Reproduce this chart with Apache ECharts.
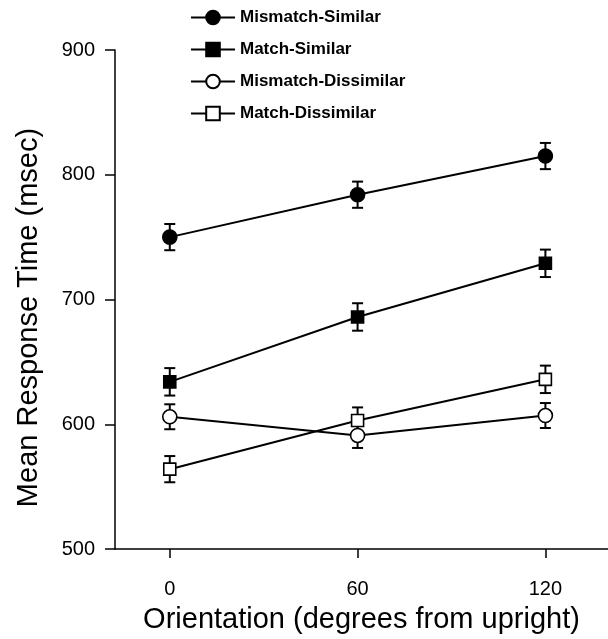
<!DOCTYPE html>
<html>
<head>
<meta charset="utf-8">
<script src="https://cdn.jsdelivr.net/npm/echarts@6/dist/echarts.min.js"></script>
<style>
  html, body { margin: 0; padding: 0; background: #fff; }
  #main { width: 608px; height: 639px; }
</style>
</head>
<body>
<div id="main"></div>
<script>
// orientation conditions (degrees from upright)
const orientations = [0, 60, 120]
const seriesNames = ['Mismatch-Similar', 'Match-Similar', 'Mismatch-Dissimilar', 'Match-Dissimilar']

// mean response times (msec)
const mismatchSimilar = [750, 784, 815]
const matchSimilar = [634, 686, 729]
const mismatchDissimilar = [606, 591, 607]
const matchDissimilar = [564, 603, 636]

// error bar half-lengths (msec)
const mismatchSimilarErr = [10.5, 10.5, 10.5]
const matchSimilarErr = [11, 11, 11]
const mismatchDissimilarErr = [10, 10, 10]
const matchDissimilarErr = [10.5, 10.5, 11]

const yTicks = [500, 600, 700, 800, 900]

const font = "'Liberation Sans', Arial, Helvetica, sans-serif"

let chart = echarts.init(document.getElementById('main'), null, { renderer: 'canvas' })

// markers: filled circle, filled square, open circle, open square
const markers = [
  { symbol: 'circle', size: 14, fill: '#000' },
  { symbol: 'rect', size: 12, fill: '#000' },
  { symbol: 'circle', size: 14, fill: '#fff' },
  { symbol: 'rect', size: 12, fill: '#fff' }
]
const values = [mismatchSimilar, matchSimilar, mismatchDissimilar, matchDissimilar]
const errors = [mismatchSimilarErr, matchSimilarErr, mismatchDissimilarErr, matchDissimilarErr]

function lineSeries(i) {
  return {
    name: seriesNames[i],
    type: 'line',
    z: 3,
    data: orientations.map((x, j) => [x, values[i][j]]),
    symbol: markers[i].symbol,
    symbolSize: markers[i].size,
    lineStyle: { color: '#000', width: 2 },
    itemStyle: { color: markers[i].fill, borderColor: '#000', borderWidth: 1.6 },
    emphasis: { disabled: true },
    animation: false
  }
}

function errorSeries(i) {
  return {
    type: 'custom',
    z: 2,
    silent: true,
    data: orientations.map((x, j) => [x, values[i][j] - errors[i][j], values[i][j] + errors[i][j]]),
    renderItem: function (params, api) {
      let lo = api.coord([api.value(0), api.value(1)])
      let hi = api.coord([api.value(0), api.value(2)])
      let w = 5.5
      let style = { stroke: '#000', lineWidth: 2 }
      return {
        type: 'group',
        children: [
          { type: 'line', shape: { x1: lo[0], y1: lo[1], x2: hi[0], y2: hi[1] }, style: style },
          { type: 'line', shape: { x1: lo[0] - w, y1: lo[1], x2: lo[0] + w, y2: lo[1] }, style: style },
          { type: 'line', shape: { x1: hi[0] - w, y1: hi[1], x2: hi[0] + w, y2: hi[1] }, style: style }
        ]
      }
    },
    animation: false
  }
}

let series = []
for (let i = 0; i < 4; i++) {
  series.push(errorSeries(i))
  series.push(lineSeries(i))
}

let option = {
  backgroundColor: '#fff',
  animation: false,
  legend: {
    data: seriesNames,
    orient: 'vertical',
    left: 185,
    top: 4,
    itemWidth: 44,
    itemHeight: 17,
    itemGap: 15,
    selectedMode: false,
    textStyle: { fontFamily: font, fontSize: 17, fontWeight: 'bold', color: '#000' }
  },
  grid: { left: 115, right: 0, top: 50, bottom: 90 },
  xAxis: {
    type: 'value',
    min: -17.5,
    max: 140,
    name: 'Orientation (degrees from upright)',
    nameLocation: 'middle',
    nameGap: 56,
    nameTextStyle: { fontFamily: font, fontSize: 29, color: '#000' },
    axisLine: { onZero: false, lineStyle: { color: '#000', width: 1.5 } },
    axisTick: { customValues: orientations, length: 9, lineStyle: { color: '#000', width: 1.5 } },
    axisLabel: { customValues: orientations, margin: 30, fontFamily: font, fontSize: 20, color: '#000' },
    splitLine: { show: false }
  },
  yAxis: {
    type: 'value',
    min: yTicks[0],
    max: yTicks[yTicks.length - 1],
    interval: 100,
    name: 'Mean Response Time (msec)',
    nameLocation: 'middle',
    nameGap: 72,
    nameTextStyle: { fontFamily: font, fontSize: 29, color: '#000', padding: [0, 36, 0, 0] },
    axisLine: { show: true, onZero: false, lineStyle: { color: '#000', width: 1.5 } },
    axisTick: { show: true, length: 10, lineStyle: { color: '#000', width: 1.5 } },
    axisLabel: { margin: 20, fontFamily: font, fontSize: 20, color: '#000' },
    splitLine: { show: false }
  },
  series: series
}

chart.setOption(option)
</script>
</body>
</html>
